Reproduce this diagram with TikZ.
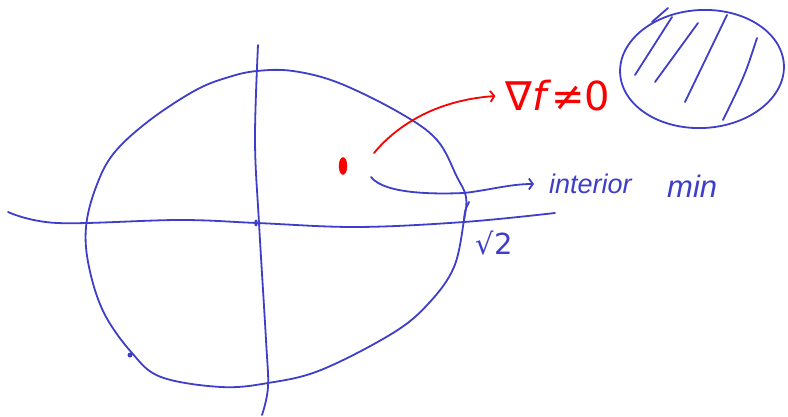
\documentclass[tikz,border=0pt]{standalone}
\usepackage{fontspec}
\setsansfont{Liberation Sans}
\newfontfamily\djv{DejaVu Sans}
\usetikzlibrary{arrows.meta,shapes.geometric}
\definecolor{pen}{RGB}{62,62,200}
\definecolor{redpen}{RGB}{250,0,0}
\tikzset{
  stroke/.style={draw=pen, line width=1.8pt, line cap=round, line join=round},
  rstroke/.style={draw=redpen, line width=1.8pt, line cap=round, line join=round},
  tip/.style={-{Straight Barb[length=4pt,width=11pt,line width=1.8pt]}},
  lbl/.style={inner sep=0pt, text=pen, font=\sffamily\itshape\fontsize{27}{31}\selectfont},
}
\begin{document}
\begin{tikzpicture}[x=1pt,y=-1pt]
\useasboundingbox (0,0) rectangle (788,417);
% horizontal axis
\draw[stroke] plot[smooth, tension=0.6] coordinates {(8,212) (57,223) (179,220) (257,223) (357,227) (464,222) (555,213)};
% vertical axis
\draw[stroke] plot[smooth, tension=0.6] coordinates {(258,45) (255,140) (259,223) (266,340) (268,387) (262,415)};
% big closed curve
\draw[stroke] plot[smooth cycle, tension=0.6] coordinates {
 (257,71) (293,71) (339,83) (400,113) (437,140) (457,177) (466,197) (464,220)
 (454,267) (429,303) (393,333) (321,370) (268,383) (221,387) (161,377) (132,353)
 (104,313) (89,267) (86,227) (96,187) (114,153) (150,120) (196,90) (229,77)};
% small hook near sqrt2
\draw[stroke] (464,220) .. controls (465,210) .. (469,202);
% small marks
\fill[pen] (130,355) circle (2.5pt);
\fill[pen] (256,223) ellipse (1.8pt and 3.5pt);
% red dot
\node[draw=redpen, fill=redpen, ellipse, minimum width=8pt, minimum height=17pt, inner sep=0pt] (dot) at (343,166) {};
% labels
\node[inner sep=0pt, text=redpen, font=\djv\fontsize{40}{44}\selectfont] (grad) at (558,96) {∇\textit{f}≠0};
\node[lbl, anchor=west] (interior) at (549,184) {interior};
\node[lbl, anchor=west, font=\sffamily\itshape\fontsize{31}{35}\selectfont] (min) at (667,186) {min};
\node[inner sep=0pt, text=pen, font=\djv\fontsize{29}{33}\selectfont] (sqrt) at (494,243) {√2};
% arrows
\coordinate (rs) at (374,153);
\coordinate (bs) at (371,177);
\draw[rstroke, tip] (rs) .. controls (400,122) and (440,100) .. ([xshift=-10pt]grad.west);
\draw[stroke, tip] (bs) .. controls (385,195) and (440,194) .. (464,193) .. controls (490,190) and (510,184) .. ([xshift=-15pt]interior.west);
% hatched ellipse
\draw[stroke, rotate around={3:(702,69)}] (702,69) ellipse (82pt and 59pt);
\draw[stroke] (652,22) -- (668,8);
\draw[stroke] (672,17) -- (635,75);
\draw[stroke] (698,23) -- (655,82);
\draw[stroke] (727,15) -- (685,102);
\draw[stroke] (757,38) .. controls (745,75) .. (723,120);
\end{tikzpicture}
\end{document}
